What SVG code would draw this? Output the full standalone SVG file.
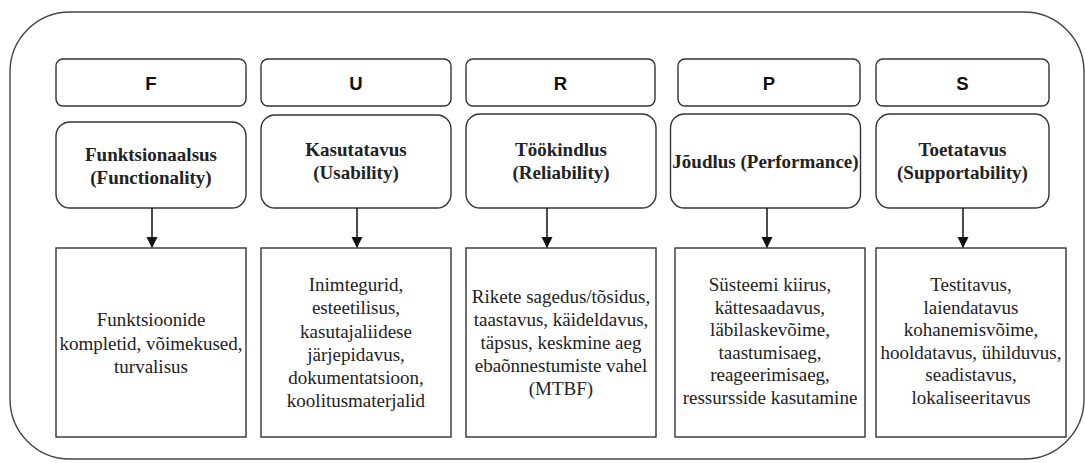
<svg xmlns="http://www.w3.org/2000/svg" width="1085" height="463" viewBox="0 0 1085 463">
  <defs>
    <style>
      .frame { fill: none; stroke: #444; stroke-width: 1.4; }
      .box { fill: #fff; stroke: #333; stroke-width: 1.4; }
      .letter { font-family: "Liberation Sans", Arial, sans-serif; font-weight: bold; font-size: 18.5px; fill: #111; text-anchor: middle; }
      .title { font-family: "Liberation Serif", "Times New Roman", serif; font-weight: bold; font-size: 19px; fill: #222; text-anchor: middle; }
      .body { font-family: "Liberation Serif", "Times New Roman", serif; font-size: 19px; fill: #222; text-anchor: middle; }
      .edge { stroke: #111; stroke-width: 1.5; fill: none; }
    </style>
    <marker id="arrow" viewBox="0 0 10 10" refX="9" refY="5" markerWidth="11" markerHeight="12" markerUnits="userSpaceOnUse" orient="auto">
      <path d="M0,0 L10,5 L0,10 z" fill="#111"/>
    </marker>
  </defs>

  <rect width="1085" height="463" fill="#fff"/>

  <!-- outer frame -->
  <rect class="frame" x="10" y="12" width="1074" height="447" rx="60" ry="60"/>

  <!-- F column -->
  <g id="f-letter">
    <rect class="box" x="56" y="59" width="190" height="47" rx="7"/>
    <text class="letter" x="151" y="89.5">F</text>
  </g>
  <g id="f-title">
    <rect class="box" x="56" y="122" width="190" height="86" rx="14"/>
    <text class="title" x="151" y="161">Funktsionaalsus</text>
    <text class="title" x="151" y="184">(Functionality)</text>
  </g>
  <g id="f-detail">
    <rect class="box" x="56" y="248" width="190" height="189"/>
    <text class="body" x="151" y="326">Funktsioonide</text>
    <text class="body" x="151" y="349.5">kompletid, võimekused,</text>
    <text class="body" x="151" y="373">turvalisus</text>
  </g>

  <!-- U column -->
  <g id="u-letter">
    <rect class="box" x="261" y="59" width="190" height="47" rx="7"/>
    <text class="letter" x="356" y="89.5">U</text>
  </g>
  <g id="u-title">
    <rect class="box" x="261" y="115" width="190" height="93" rx="14"/>
    <text class="title" x="356" y="156">Kasutatavus</text>
    <text class="title" x="356" y="179">(Usability)</text>
  </g>
  <g id="u-detail">
    <rect class="box" x="261" y="248" width="190" height="189"/>
    <text class="body" x="356" y="291">Inimtegurid,</text>
    <text class="body" x="356" y="314">esteetilisus,</text>
    <text class="body" x="356" y="337.5">kasutajaliidese</text>
    <text class="body" x="356" y="361">järjepidavus,</text>
    <text class="body" x="356" y="384">dokumentatsioon,</text>
    <text class="body" x="356" y="407">koolitusmaterjalid</text>
  </g>

  <!-- R column -->
  <g id="r-letter">
    <rect class="box" x="466" y="59" width="189" height="47" rx="7"/>
    <text class="letter" x="560.5" y="89.5">R</text>
  </g>
  <g id="r-title">
    <rect class="box" x="466" y="114" width="190" height="94" rx="14"/>
    <text class="title" x="561" y="156">Töökindlus</text>
    <text class="title" x="561" y="179">(Reliability)</text>
  </g>
  <g id="r-detail">
    <rect class="box" x="466" y="248" width="190" height="189"/>
    <text class="body" x="561" y="303">Rikete sagedus/tõsidus,</text>
    <text class="body" x="561" y="326">taastavus, käideldavus,</text>
    <text class="body" x="561" y="349">täpsus, keskmine aeg</text>
    <text class="body" x="561" y="372">ebaõnnestumiste vahel</text>
    <text class="body" x="561" y="395">(MTBF)</text>
  </g>

  <!-- P column -->
  <g id="p-letter">
    <rect class="box" x="678" y="59" width="182" height="47" rx="7"/>
    <text class="letter" x="769" y="89.5">P</text>
  </g>
  <g id="p-title">
    <rect class="box" x="670.5" y="114" width="190" height="94" rx="14"/>
    <text class="title" x="765.5" y="168">Jõudlus (Performance)</text>
  </g>
  <g id="p-detail">
    <rect class="box" x="675" y="248" width="190" height="189"/>
    <text class="body" x="770" y="291">Süsteemi kiirus,</text>
    <text class="body" x="770" y="313.6">kättesaadavus,</text>
    <text class="body" x="770" y="336.2">läbilaskevõime,</text>
    <text class="body" x="770" y="358.8">taastumisaeg,</text>
    <text class="body" x="770" y="381.4">reageerimisaeg,</text>
    <text class="body" x="770" y="404">ressursside kasutamine</text>
  </g>

  <!-- S column -->
  <g id="s-letter">
    <rect class="box" x="876" y="59" width="173" height="47" rx="7"/>
    <text class="letter" x="962.5" y="89.5">S</text>
  </g>
  <g id="s-title">
    <rect class="box" x="876" y="114" width="173" height="94" rx="14"/>
    <text class="title" x="962.5" y="156">Toetatavus</text>
    <text class="title" x="962.5" y="179">(Supportability)</text>
  </g>
  <g id="s-detail">
    <rect class="box" x="876" y="248" width="190" height="189"/>
    <text class="body" x="971" y="291">Testitavus,</text>
    <text class="body" x="971" y="313.6">laiendatavus</text>
    <text class="body" x="971" y="336.2">kohanemisvõime,</text>
    <text class="body" x="971" y="358.8">hooldatavus, ühilduvus,</text>
    <text class="body" x="971" y="381.4">seadistavus,</text>
    <text class="body" x="971" y="404">lokaliseeritavus</text>
  </g>

  <!-- connectors: title box to detail box -->
  <g id="connectors">
    <line class="edge" x1="152" y1="208" x2="152" y2="247" marker-end="url(#arrow)"/>
    <line class="edge" x1="357" y1="208" x2="357" y2="247" marker-end="url(#arrow)"/>
    <line class="edge" x1="547" y1="208" x2="547" y2="247" marker-end="url(#arrow)"/>
    <line class="edge" x1="767" y1="208" x2="767" y2="247" marker-end="url(#arrow)"/>
    <line class="edge" x1="963" y1="208" x2="963" y2="247" marker-end="url(#arrow)"/>
  </g>
</svg>
